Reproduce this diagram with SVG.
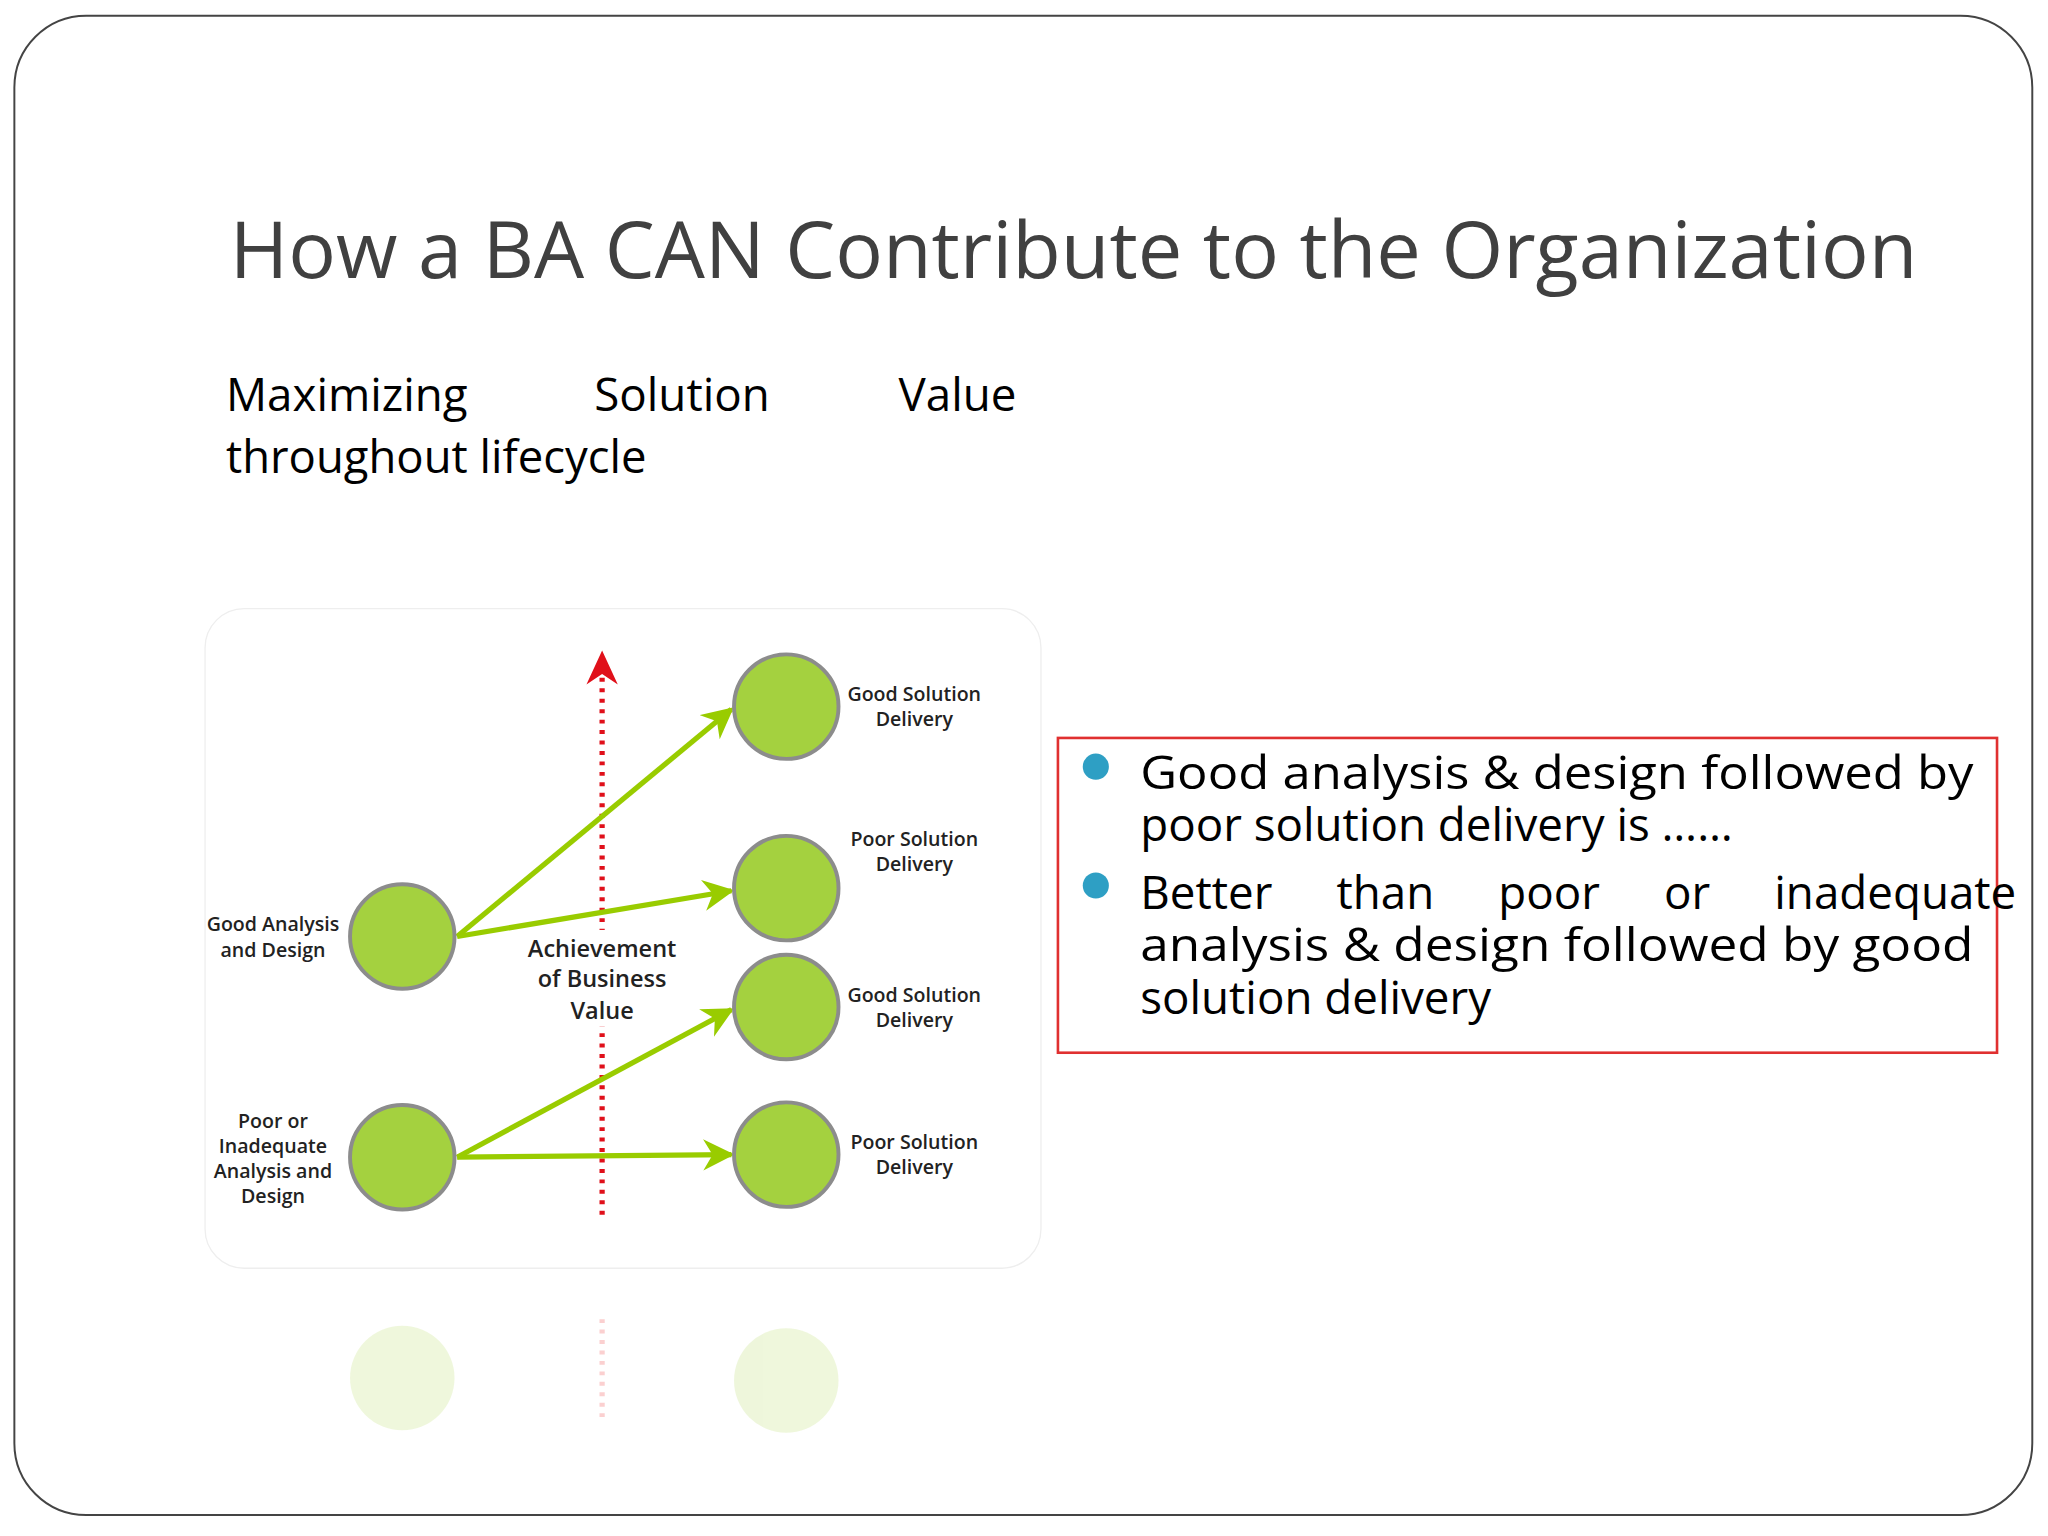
<svg xmlns="http://www.w3.org/2000/svg" width="2048" height="1536" viewBox="0 0 2048 1536">
<defs>
<style>
.t{font-family:"Open Sans","Liberation Sans",sans-serif;fill:#000}
.lb{font-family:"Open Sans","Liberation Sans",sans-serif;font-size:15px;font-weight:600;fill:#222;text-anchor:middle}
.av{font-family:"Open Sans","Liberation Sans",sans-serif;font-size:18px;font-weight:600;fill:#222;text-anchor:middle}
.c{fill:#a4d13f;stroke:#8c8c8c;stroke-width:3}
.g{stroke:#99cc00;stroke-width:4;fill:none;marker-end:url(#ga)}
.bt{font-family:"Open Sans","Liberation Sans",sans-serif;font-size:35px;fill:#000}
</style>
<marker id="ga" viewBox="0 0 10 10" refX="9" refY="5" markerWidth="6" markerHeight="6" orient="auto"><path d="M0,0 L10,5 L0,10 L3,5 Z" fill="#99cc00"/></marker>
</defs>
<rect width="2048" height="1536" fill="#fff"/>
<g transform="scale(1.3061)">
<rect x="11" y="12" width="1545" height="1148" rx="55" fill="#fff" stroke="#444" stroke-width="1.5"/>
<text class="t" x="176" y="213" font-size="60" style="fill:#404040" textLength="1292" lengthAdjust="spacingAndGlyphs">How a BA CAN Contribute to the Organization</text>
<text class="t" x="173" y="315" font-size="35">Maximizing</text>
<text class="t" x="455" y="315" font-size="35">Solution</text>
<text class="t" x="688" y="315" font-size="35">Value</text>
<text class="t" x="173" y="362" font-size="35" textLength="322" lengthAdjust="spacingAndGlyphs">throughout lifecycle</text>
<g id="panel">
<rect x="157" y="466" width="640" height="505" rx="30" fill="#fff" stroke="#eee"/>
</g>
<g id="reflection" opacity="0.18">
<circle cx="308" cy="1055" r="40" fill="#a4d13f"/>
<circle cx="602" cy="1057" r="40" fill="#a4d13f"/>
<line x1="461" y1="1010" x2="461" y2="1090" stroke="#e00" stroke-width="4" stroke-dasharray="3 5"/>
</g>
<g id="connectors">
<line x1="461" y1="930" x2="461" y2="515" stroke="#e0101a" stroke-width="4" stroke-dasharray="3 5"/>
<path d="M449,524 L461,498 L473,524 L461,516 Z" fill="#e0101a"/>
<line class="g" x1="350" y1="717" x2="560" y2="543"/>
<line class="g" x1="350" y1="717" x2="560" y2="682"/>
<line class="g" x1="350" y1="886" x2="560" y2="773"/>
<line class="g" x1="350" y1="886" x2="560" y2="884"/>
</g>
<g id="value"><rect x="398" y="712" width="126" height="74" fill="#fff"/>
<text class="av" x="461" y="733">Achievement</text>
<text class="av" x="461" y="756">of Business</text>
<text class="av" x="461" y="780">Value</text></g>
<g id="gad"><circle class="c" cx="308" cy="717" r="40"/><text class="lb" x="209" y="713">Good Analysis</text><text class="lb" x="209" y="733">and Design</text></g>
<g id="pad"><circle class="c" cx="308" cy="886" r="40"/><text class="lb" x="209" y="864">Poor or</text><text class="lb" x="209" y="883">Inadequate</text><text class="lb" x="209" y="902">Analysis and</text><text class="lb" x="209" y="921">Design</text></g>
<g id="n1"><circle class="c" cx="602" cy="541" r="40"/><text class="lb" x="700" y="537">Good Solution</text><text class="lb" x="700" y="556">Delivery</text></g>
<g id="n2"><circle class="c" cx="602" cy="680" r="40"/><text class="lb" x="700" y="648">Poor Solution</text><text class="lb" x="700" y="667">Delivery</text></g>
<g id="n3"><circle class="c" cx="602" cy="771" r="40"/><text class="lb" x="700" y="767">Good Solution</text><text class="lb" x="700" y="786">Delivery</text></g>
<g id="n4"><circle class="c" cx="602" cy="884" r="40"/><text class="lb" x="700" y="880">Poor Solution</text><text class="lb" x="700" y="899">Delivery</text></g>
<g id="box">
<rect x="810" y="565" width="719" height="241" fill="#fff" stroke="#e03030" stroke-width="2"/>
<circle cx="839" cy="587" r="10" fill="#2e9fc4"/>
<circle cx="839" cy="678" r="10" fill="#2e9fc4"/>
<text class="bt" x="873" y="604" textLength="638" lengthAdjust="spacingAndGlyphs">Good analysis &amp; design followed by</text>
<text class="bt" x="873" y="644">poor solution delivery is ……</text>
<text class="bt" x="873" y="696" word-spacing="40">Better than poor or inadequate</text>
<text class="bt" x="873" y="736" textLength="638" lengthAdjust="spacingAndGlyphs">analysis &amp; design followed by good</text>
<text class="bt" x="873" y="776">solution delivery</text>
</g>
</g>
</svg>
